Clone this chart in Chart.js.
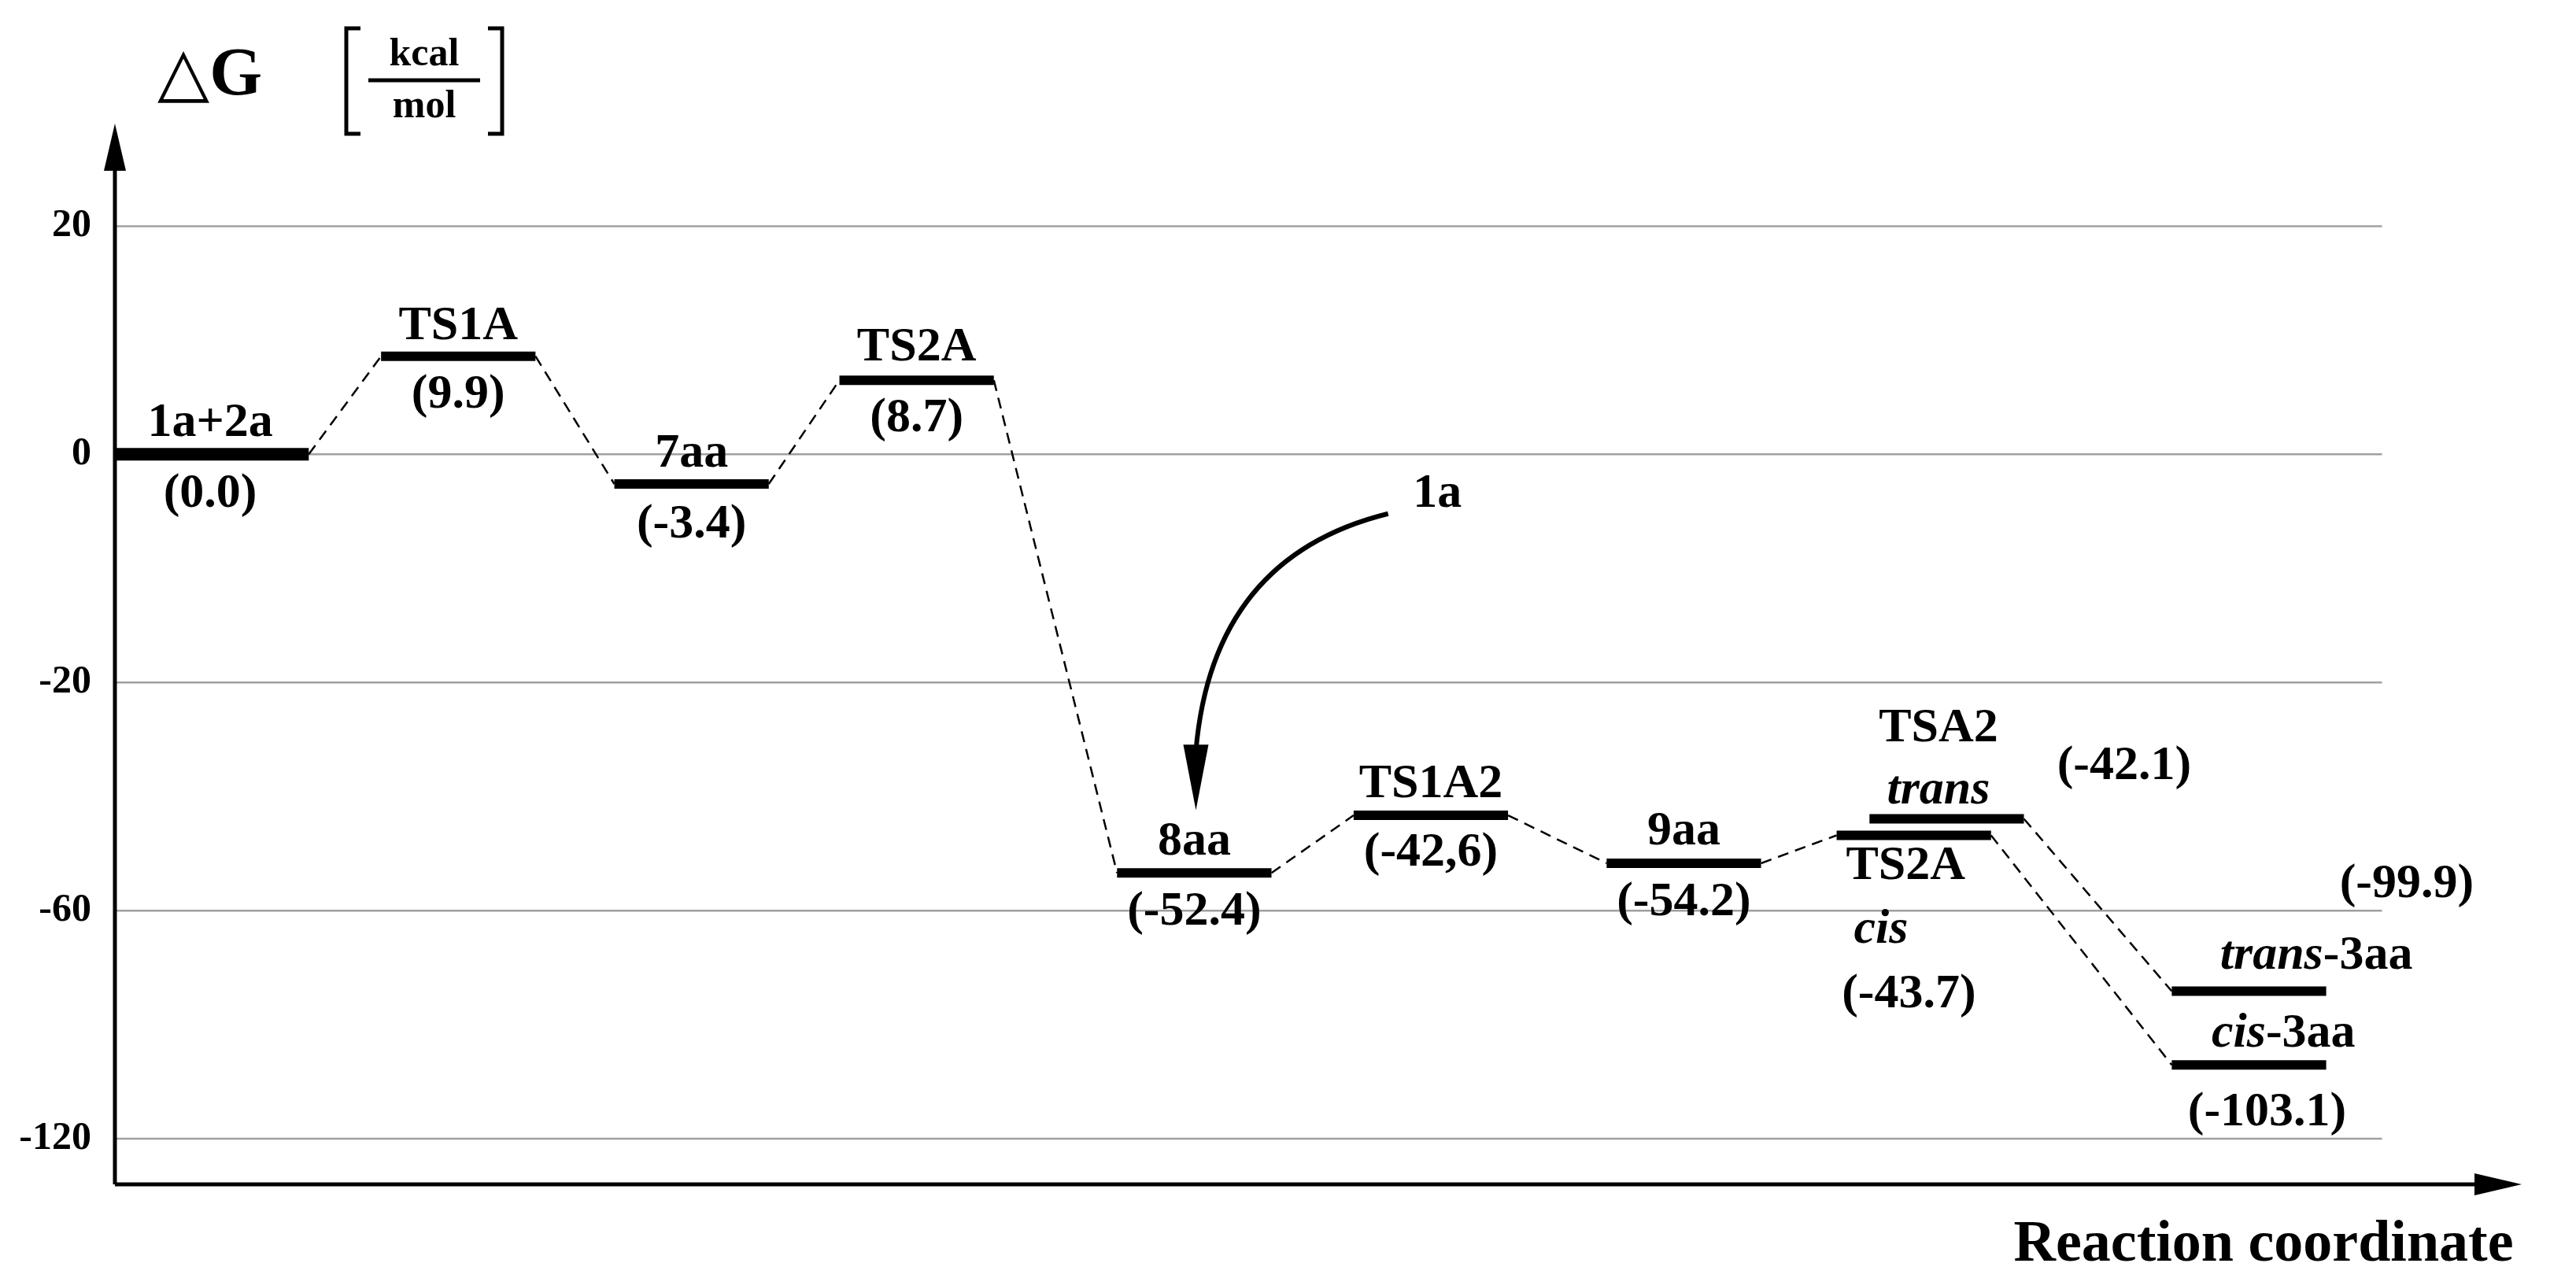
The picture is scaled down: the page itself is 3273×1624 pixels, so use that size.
<!DOCTYPE html>
<html>
<head>
<meta charset="utf-8">
<script src="https://cdn.jsdelivr.net/npm/chart.js@4.4.1/dist/chart.umd.min.js"></script>
<style>
  html, body { margin: 0; padding: 0; background: #fff; }
  #wrap { width: 3273px; height: 1624px; }
</style>
</head>
<body>
<div id="wrap"><canvas id="c" width="3273" height="1624"></canvas></div>
<script>
// Energy levels: name, x start, x end (reaction coordinate units), plotted energy (kcal/mol)
var levelNames  = ['1a+2a', 'TS1A', '7aa', 'TS2A', '8aa', 'TS1A2', '9aa', 'TS2A cis', 'TSA2 trans', 'trans-3aa', 'cis-3aa'];
var levelStart  = [70, 232, 374, 511, 680, 824, 978, 1118, 1138, 1322, 1322];
var levelEnd    = [188, 326, 468, 605, 774, 918, 1072, 1212, 1232, 1416, 1416];
var levelEnergy = [0, 8.6, -2.6, 6.5, -53.4, -43.3, -51.7, -46.8, -43.9, -81.2, -100.6];
var levelWidth  = [16, 12, 12, 12, 12, 12, 12, 12, 12, 12, 12];

// Dashed connections between levels (index pairs)
var links = [[0, 1], [1, 2], [2, 3], [3, 4], [4, 5], [5, 6], [6, 7], [7, 10], [8, 9]];

// Non-linear energy axis: equally spaced ticks
var tickValues = [20, 0, -20, -60, -120];

// Text labels: [x, axis position, pieces [[text, italic]]]
var labels = [
  [128, 0.137, [['1a+2a', 0]]], [128, -0.173, [['(0.0)', 0]]],
  [279, 0.561, [['TS1A', 0]]], [279, 0.259, [['(9.9)', 0]]],
  [421, 0.0, [['7aa', 0]]], [421, -0.309, [['(-3.4)', 0]]],
  [558, 0.468, [['TS2A', 0]]], [558, 0.158, [['(8.7)', 0]]],
  [727, -1.698, [['8aa', 0]]], [727, -2.007, [['(-52.4)', 0]]],
  [871, -1.446, [['TS1A2', 0]]], [871, -1.748, [['(-42,6)', 0]]],
  [1025, -1.655, [['9aa', 0]]], [1025, -1.964, [['(-54.2)', 0]]],
  [1180, -1.201, [['TSA2', 0]]], [1180, -1.475, [['trans', 1]]],
  [1293, -1.367, [['(-42.1)', 0]]],
  [1160, -1.806, [['TS2A', 0]]], [1145, -2.086, [['cis', 1]]],
  [1162, -2.367, [['(-43.7)', 0]]],
  [1465, -1.885, [['(-99.9)', 0]]],
  [1410, -2.201, [['trans', 1], ['-3aa', 0]]],
  [1390, -2.540, [['cis', 1], ['-3aa', 0]]],
  [1380, -2.885, [['(-103.1)', 0]]],
  [875, -0.173, [['1a', 0]]]
];

function toP(v) {
  if (v >= -20) return v / 20;
  if (v >= -60) return -1 + (v + 20) / 40;
  return -2 + (v + 60) / 60;
}

var FONT = '"Liberation Serif", "DejaVu Serif", serif';
var LABEL_PX = 62;

var datasets = [];
levelNames.forEach(function (n, i) {
  datasets.push({
    data: [{ x: levelStart[i], y: toP(levelEnergy[i]) }, { x: levelEnd[i], y: toP(levelEnergy[i]) }],
    borderColor: '#000', borderWidth: levelWidth[i], showLine: true, pointRadius: 0
  });
});
links.forEach(function (l) {
  var a = l[0], b = l[1];
  datasets.push({
    data: [{ x: levelEnd[a], y: toP(levelEnergy[a]) }, { x: levelStart[b], y: toP(levelEnergy[b]) }],
    borderColor: '#000', borderWidth: 2.5, borderDash: [14, 9], showLine: true, pointRadius: 0
  });
});

var decor = {
  id: 'decor',
  beforeDatasetsDraw: function (chart) {
    var ctx = chart.ctx, xs = chart.scales.x, ys = chart.scales.y;
    ctx.save();
    ctx.strokeStyle = '#a0a0a0'; ctx.lineWidth = 2.5;
    ctx.fillStyle = '#000';
    ctx.font = 'bold 50px ' + FONT;
    ctx.textAlign = 'right'; ctx.textBaseline = 'middle';
    tickValues.forEach(function (v) {
      var y = ys.getPixelForValue(toP(v));
      ctx.beginPath(); ctx.moveTo(xs.getPixelForValue(70), y); ctx.lineTo(xs.getPixelForValue(1450), y); ctx.stroke();
      ctx.fillText(String(v), xs.getPixelForValue(70) - 30, y);
    });
    ctx.restore();
  },
  afterDatasetsDraw: function (chart) {
    var ctx = chart.ctx, xs = chart.scales.x, ys = chart.scales.y;
    var x0 = xs.getPixelForValue(70), yb = ys.getPixelForValue(-3.2);
    var yt = ys.getPixelForValue(1.45), xr = xs.getPixelForValue(1535);
    ctx.save();
    ctx.strokeStyle = '#000'; ctx.fillStyle = '#000'; ctx.lineWidth = 5;
    ctx.beginPath(); ctx.moveTo(x0, yb); ctx.lineTo(x0, yt + 30); ctx.moveTo(x0, yb); ctx.lineTo(xr - 40, yb); ctx.stroke();
    ctx.beginPath(); ctx.moveTo(x0, yt); ctx.lineTo(x0 - 14, yt + 60); ctx.lineTo(x0 + 14, yt + 60); ctx.fill();
    ctx.beginPath(); ctx.moveTo(xr, yb); ctx.lineTo(xr - 60, yb - 14); ctx.lineTo(xr - 60, yb + 14); ctx.fill();

    // labels
    ctx.textBaseline = 'middle';
    labels.forEach(function (l) {
      var parts = l[2], w = 0;
      parts.forEach(function (p) { ctx.font = (p[1] ? 'italic ' : '') + 'bold ' + LABEL_PX + 'px ' + FONT; w += ctx.measureText(p[0]).width; });
      var x = xs.getPixelForValue(l[0]) - w / 2, y = ys.getPixelForValue(l[1]);
      ctx.textAlign = 'left';
      parts.forEach(function (p) {
        ctx.font = (p[1] ? 'italic ' : '') + 'bold ' + LABEL_PX + 'px ' + FONT;
        ctx.fillText(p[0], x, y); x += ctx.measureText(p[0]).width;
      });
    });

    // curved arrow from 1a to 8aa
    var sx = xs.getPixelForValue(845), sy = ys.getPixelForValue(-0.26);
    var cx = xs.getPixelForValue(738), cy = ys.getPixelForValue(-0.45);
    var ex = xs.getPixelForValue(728), ey = ys.getPixelForValue(-1.3);
    ctx.lineWidth = 6;
    ctx.beginPath(); ctx.moveTo(sx, sy); ctx.quadraticCurveTo(cx, cy, ex, ey); ctx.stroke();
    var tip = ys.getPixelForValue(-1.56);
    ctx.beginPath(); ctx.moveTo(ex, tip); ctx.lineTo(ex - 16, ey - 8); ctx.lineTo(ex + 16, ey - 8); ctx.fill();

    // axis titles
    ctx.textAlign = 'right'; ctx.font = 'bold 74px ' + FONT;
    ctx.fillText('Reaction coordinate', xs.getPixelForValue(1530), yb + 78);
    ctx.textAlign = 'left';
    ctx.font = 'bold 86px ' + FONT;
    var ty = 98;
    ctx.fillText('\u25B3G', 200, ty);
    var bx = 440;
    ctx.lineWidth = 5;
    ctx.beginPath();
    ctx.moveTo(bx + 18, ty - 62); ctx.lineTo(bx, ty - 62); ctx.lineTo(bx, ty + 72); ctx.lineTo(bx + 18, ty + 72);
    ctx.moveTo(bx + 180, ty - 62); ctx.lineTo(bx + 198, ty - 62); ctx.lineTo(bx + 198, ty + 72); ctx.lineTo(bx + 180, ty + 72);
    ctx.moveTo(bx + 28, ty + 4); ctx.lineTo(bx + 170, ty + 4);
    ctx.stroke();
    ctx.textAlign = 'center'; ctx.font = 'bold 50px ' + FONT;
    ctx.fillText('kcal', bx + 99, ty - 28);
    ctx.fillText('mol', bx + 99, ty + 38);
    ctx.restore();
  }
};

new Chart(document.getElementById('c'), {
  type: 'scatter',
  data: { datasets: datasets },
  options: {
    responsive: false, animation: false,
    layout: { padding: { left: 146, right: 69, top: 157, bottom: 119 } },
    plugins: { legend: { display: false }, tooltip: { enabled: false } },
    scales: {
      x: { type: 'linear', min: 70, max: 1535, display: false },
      y: { type: 'linear', min: -3.2, max: 1.45, display: false }
    }
  },
  plugins: [decor]
});
</script>
</body>
</html>
